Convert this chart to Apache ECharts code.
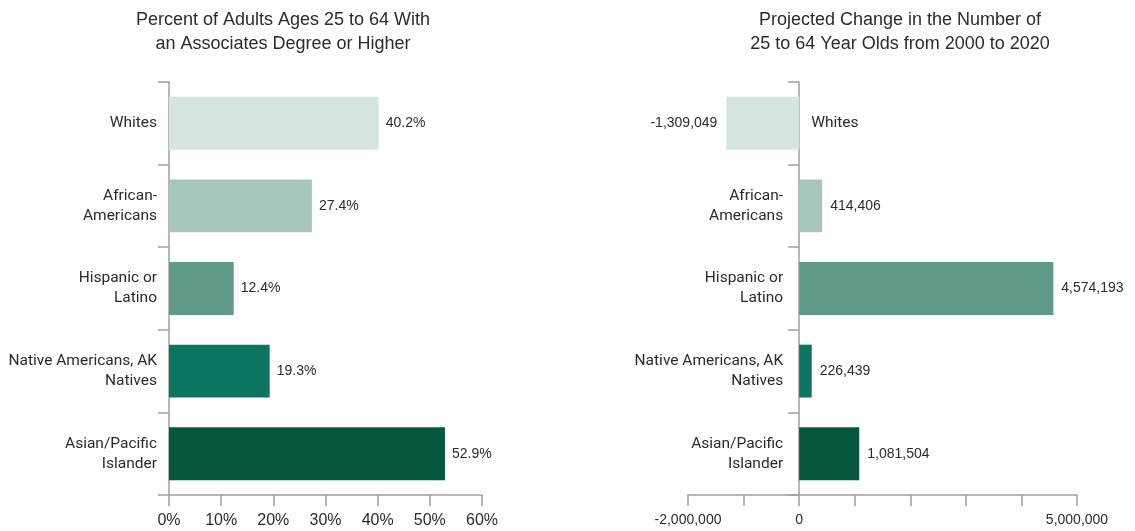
<!DOCTYPE html>
<html>
<head>
<meta charset="utf-8">
<script src="https://cdn.jsdelivr.net/npm/echarts@6/dist/echarts.min.js"></script>
<style>
  html, body { margin: 0; padding: 0; background: #fff; }
  #chart { width: 1135px; height: 531px; }
</style>
</head>
<body>
<div id="chart"></div>
<script>
// categories, top to bottom
var groups = ['Whites', 'African-\nAmericans', 'Hispanic or\nLatino', 'Native Americans, AK\nNatives', 'Asian/Pacific\nIslander'];
var barColors = ['#d6e4df', '#a7c6bb', '#5e9a87', '#0b7561', '#05583d'];
// left panel: percent with associates degree or higher
var degreePct = [40.2, 27.4, 12.4, 19.3, 52.9];
// right panel: projected change 2000 -> 2020
var popChange = [-1309049, 414406, 4574193, 226439, 1081504];
// right axis: only these ticks get a label
var changeTickLabels = [-2000000, 0, 5000000];

var titleLeft = 'Percent of Adults Ages 25 to 64 With\nan Associates Degree or Higher';
var titleRight = 'Projected Change in the Number of\n25 to 64 Year Olds from 2000 to 2020';

var axisGray = '#a0a0a0';
var txt = '#2b2b2b';
var catFont = 'Roboto, "Liberation Sans", sans-serif';
var catSize = 15.5;
var numFont = '"Liberation Sans", Arial, sans-serif';

function fmt(n) {
  return n.toLocaleString('en-US');
}

var myChart = echarts.init(document.getElementById('chart'), null, { renderer: 'canvas' });

var option = {
  backgroundColor: '#ffffff',
  animation: false,
  title: [
    {
      text: titleLeft, left: 278, top: 3, textAlign: 'center',
      textStyle: { fontFamily: numFont, fontSize: 18, fontWeight: 'normal', color: txt, lineHeight: 24 }
    },
    {
      text: titleRight, left: 895, top: 3, textAlign: 'center',
      textStyle: { fontFamily: numFont, fontSize: 18, fontWeight: 'normal', color: txt, lineHeight: 24 }
    }
  ],
  grid: [
    { left: 169, right: 653, top: 82, bottom: 36, containLabel: false, outerBoundsMode: 'none' },
    { left: 688, right: 58, top: 82, bottom: 36, containLabel: false, outerBoundsMode: 'none' }
  ],
  xAxis: [
    {
      gridIndex: 0, type: 'value', min: 0, max: 60, interval: 10,
      splitLine: { show: false },
      axisLine: { show: true, lineStyle: { color: axisGray, width: 1.5 } },
      axisTick: { show: true, length: 11, lineStyle: { color: axisGray, width: 1.5 } },
      axisLabel: { formatter: '{value}%', margin: 18, fontFamily: numFont, fontSize: 16, color: txt }
    },
    {
      gridIndex: 1, type: 'value', min: -2000000, max: 5000000, interval: 1000000,
      splitLine: { show: false },
      axisLine: { show: true, onZero: false, lineStyle: { color: axisGray, width: 1.5 } },
      axisTick: { show: true, length: 11, lineStyle: { color: axisGray, width: 1.5 } },
      axisLabel: {
        margin: 18, fontFamily: numFont, fontSize: 14, color: txt,
        formatter: function (v) {
          return changeTickLabels.indexOf(v) >= 0 ? fmt(v) : '';
        }
      }
    }
  ],
  yAxis: [
    {
      gridIndex: 0, type: 'category', data: groups, inverse: true,
      axisLine: { show: true, lineStyle: { color: axisGray, width: 1.5 } },
      axisTick: { show: true, length: 11, lineStyle: { color: axisGray, width: 1.5 } },
      axisLabel: { margin: 12, fontFamily: catFont, fontSize: catSize, lineHeight: 20, color: txt }
    },
    {
      gridIndex: 1, type: 'category', data: groups, inverse: true,
      axisLine: { show: true, onZero: true, lineStyle: { color: axisGray, width: 1.5 } },
      axisTick: { show: true, length: 11, lineStyle: { color: axisGray, width: 1.5 } },
      axisLabel: { show: false }
    }
  ],
  series: [
    {
      type: 'bar', xAxisIndex: 0, yAxisIndex: 0, barWidth: '64%',
      data: degreePct.map(function (v, i) {
        return { value: v, itemStyle: { color: barColors[i] } };
      }),
      label: {
        show: true, position: 'right', distance: 7,
        fontFamily: numFont, fontSize: 14, color: txt,
        formatter: function (p) { return p.value.toFixed(1) + '%'; }
      }
    },
    {
      type: 'bar', xAxisIndex: 1, yAxisIndex: 1, barWidth: '64%',
      data: popChange.map(function (v, i) {
        return {
          value: v, itemStyle: { color: barColors[i] },
          label: { position: v < 0 ? 'left' : 'right', distance: v < 0 ? 9 : 8 }
        };
      }),
      label: {
        show: true, fontFamily: numFont, fontSize: 14, color: txt,
        formatter: function (p) { return fmt(p.value); }
      }
    },
    {
      // invisible twin bars carrying the category names on the zero side
      type: 'bar', xAxisIndex: 1, yAxisIndex: 1, barWidth: '64%', barGap: '-100%',
      silent: true,
      itemStyle: { color: 'rgba(0,0,0,0)' },
      data: popChange.map(function (v) {
        return {
          value: v,
          label: { position: v < 0 ? 'right' : 'left', distance: v < 0 ? 12 : 16 }
        };
      }),
      label: {
        show: true, fontFamily: catFont, fontSize: catSize, lineHeight: 20, color: txt,
        formatter: function (p) { return p.name; }
      }
    }
  ]
};

myChart.setOption(option, true);
</script>
</body>
</html>
